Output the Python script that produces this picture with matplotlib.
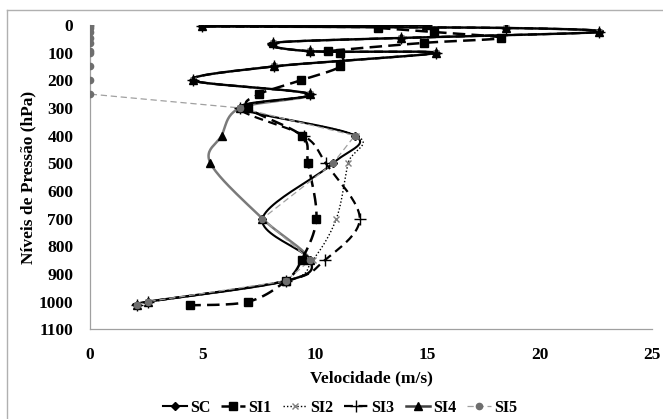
import numpy as np
import matplotlib
matplotlib.use("Agg")
import matplotlib.pyplot as plt
from matplotlib.lines import Line2D

# ---------------- data ----------------
levels = [0, 5, 11, 26, 47, 65, 95, 101, 150, 200, 250, 300, 400, 500, 700, 850, 925, 1000, 1013]
sc  = [14.96, 4.96, 18.52, 22.64, 13.85, 8.15, 9.78, 15.41, 8.18, 4.56, 9.78, 6.67,
       11.78, 10.81, 7.67, 9.80, 8.71, 2.56, 2.07]
si1 = [np.nan, np.nan, 12.81, 15.30, 18.30, 14.84, 10.59, 11.10, 11.14, 9.38, 7.53, 7.04,
       9.41, 9.70, 10.07, 9.41, 8.71, 7.04, 4.44]
si2 = [14.96, 4.96, 18.52, 22.64, 13.85, 8.15, 9.78, 15.41, 8.18, 4.56, 9.78, 6.67,
       11.85, 11.48, 10.96, 9.90, 8.71, 2.56, 2.07]
si3 = [14.96, 4.96, 18.52, 22.64, 13.85, 8.15, 9.78, 15.41, 8.18, 4.56, 9.78, 6.67,
       9.50, 10.49, 12.00, 10.44, 8.71, 2.56, 2.07]
si4 = [14.96, 4.96, 18.52, 22.64, 13.85, 8.15, 9.78, 15.41, 8.18, 4.56, 9.78, 6.67,
       5.85, 5.36, 7.67, 9.80, 8.71, 2.56, 2.07]
si5 = [0, 0, 0, 0, 0, 0, 0, 0, 0, 0, 0, 6.67,
       11.78, 10.81, 7.67, 9.80, 8.71, 2.56, 2.07]
series_names = ["SC", "SI1", "SI2", "SI3", "SI4", "SI5"]
xticks = [0, 5, 10, 15, 20, 25]
yticks = list(range(0, 1101, 100))

FONT = "Liberation Serif"
plt.rcParams["font.family"] = [FONT, "DejaVu Serif"]
plt.rcParams["font.weight"] = "bold"

W, H = 663, 419
fig = plt.figure(figsize=(W / 100, H / 100), dpi=100)
ax = fig.add_axes([90 / W, 1 - 329.4 / H, (652 - 90) / W, (329.4 - 24.9) / H])
ax.set_xlim(0, 25)
ax.set_ylim(1100, 0)

# chart-area border (top & left visible)
fig.add_artist(Line2D([7 / W, 1.0], [1 - 10 / H, 1 - 10 / H], color="#b0b0b0", lw=1.0))
fig.add_artist(Line2D([7 / W, 7 / W], [1 - 10 / H, 0.0], color="#b0b0b0", lw=1.0))


def smooth(xs, ys, n=24):
    pts = np.array([(x, y) for x, y in zip(xs, ys) if not np.isnan(x)], dtype=float)
    disp = ax.transData.transform(pts)
    m = len(disp)
    out = [disp[0]]
    for i in range(m - 1):
        p0 = disp[i - 1] if i > 0 else disp[i]
        p1 = disp[i]
        p2 = disp[i + 1]
        p3 = disp[i + 2] if i + 2 < m else disp[i + 1]
        c1 = p1 + (p2 - p0) / 6.0
        c2 = p2 - (p3 - p1) / 6.0
        t = np.linspace(0, 1, n)[1:, None]
        seg = ((1 - t) ** 3) * p1 + 3 * ((1 - t) ** 2) * t * c1 + 3 * (1 - t) * t ** 2 * c2 + t ** 3 * p2
        out.extend(seg)
    out = np.array(out)
    d = ax.transData.inverted().transform(out)
    return d[:, 0], d[:, 1]


styles = {
    "SC":  dict(color="black", lw=1.5, ls="-", marker="D", ms=4.5, mfc="black", mec="black", smooth=True, z=2.2),
    "SI1": dict(color="black", lw=1.8, ls=(0, (5, 2.5)), marker="s", ms=5.5, mfc="black", mec="black", smooth=True, z=2.1),
    "SI2": dict(color="black", lw=1.0, ls=(0, (1, 1.5)), marker="x", ms=5, mfc="#808080", mec="#808080", smooth=True, z=2.3),
    "SI3": dict(color="black", lw=1.6, ls=(0, (4, 2.5)), marker="+", ms=8, mfc="black", mec="black", smooth=True, z=2.4),
    "SI4": dict(color="#7a7a7a", lw=1.8, ls="-", marker="^", ms=5.5, mfc="black", mec="black", smooth=True, z=1.5),
    "SI5": dict(color="#a0a0a0", lw=0.9, ls=(0, (5, 3)), marker="o", ms=4.5, mfc="#6e6e6e", mec="#6e6e6e", smooth=False, z=2.5),
}
data = {"SC": sc, "SI1": si1, "SI2": si2, "SI3": si3, "SI4": si4, "SI5": si5}

handles = []
for k, name in enumerate(series_names):
    st = styles[name]
    xs = np.array(data[name], dtype=float)
    ys = np.array(levels, dtype=float)
    mask = ~np.isnan(xs)
    if st["smooth"]:
        lx, ly = smooth(xs, ys)
    else:
        lx, ly = xs[mask], ys[mask]
    ax.plot(lx, ly, color=st["color"], lw=st["lw"], ls=st["ls"], zorder=st["z"])
    ax.plot(xs[mask], ys[mask], ls="none", marker=st["marker"], ms=st["ms"],
            mfc=st["mfc"], mec=st["mec"], mew=1.0, zorder=3 + 0.1 * k)
    handles.append(Line2D([], [], color=st["color"] if name != "SI4" else "#404040",
                          lw=st["lw"], ls=st["ls"], marker=st["marker"],
                          ms=st["ms"], mfc=st["mfc"], mec=st["mec"], label=name))

ax.set_xticks(xticks)
ax.set_yticks(yticks)
ax.tick_params(axis="both", length=0, labelsize=12.5)
ax.tick_params(axis="y", pad=12)
ax.tick_params(axis="x", pad=13)
for lab in ax.get_xticklabels() + ax.get_yticklabels():
    lab.set_fontweight("bold")
for s in ["top", "right"]:
    ax.spines[s].set_visible(False)
for s in ["left", "bottom"]:
    ax.spines[s].set_color("#a0a0a0")
    ax.spines[s].set_linewidth(0.9)

ax.set_xlabel("Velocidade (m/s)", fontsize=12.5, fontweight="bold")
ax.xaxis.set_label_coords(0.5, -(378 - 329.4) / (329.4 - 24.9), transform=ax.transAxes)
ax.xaxis.label.set_va("center")
ax.set_ylabel("Níveis de Pressão (hPa)", fontsize=12.5, fontweight="bold")
ax.yaxis.set_label_coords((28 - 90) / (652 - 90), 0.5)
ax.yaxis.label.set_va("center")

leg = fig.legend(handles=handles, loc="center", bbox_to_anchor=(340 / W, 1 - 408 / H),
                 ncol=6, frameon=False, handlelength=1.5,
                 handletextpad=0.2, columnspacing=0.7, prop={"weight": "bold", "size": 11.5})

fig.savefig("out.png", dpi=100)
